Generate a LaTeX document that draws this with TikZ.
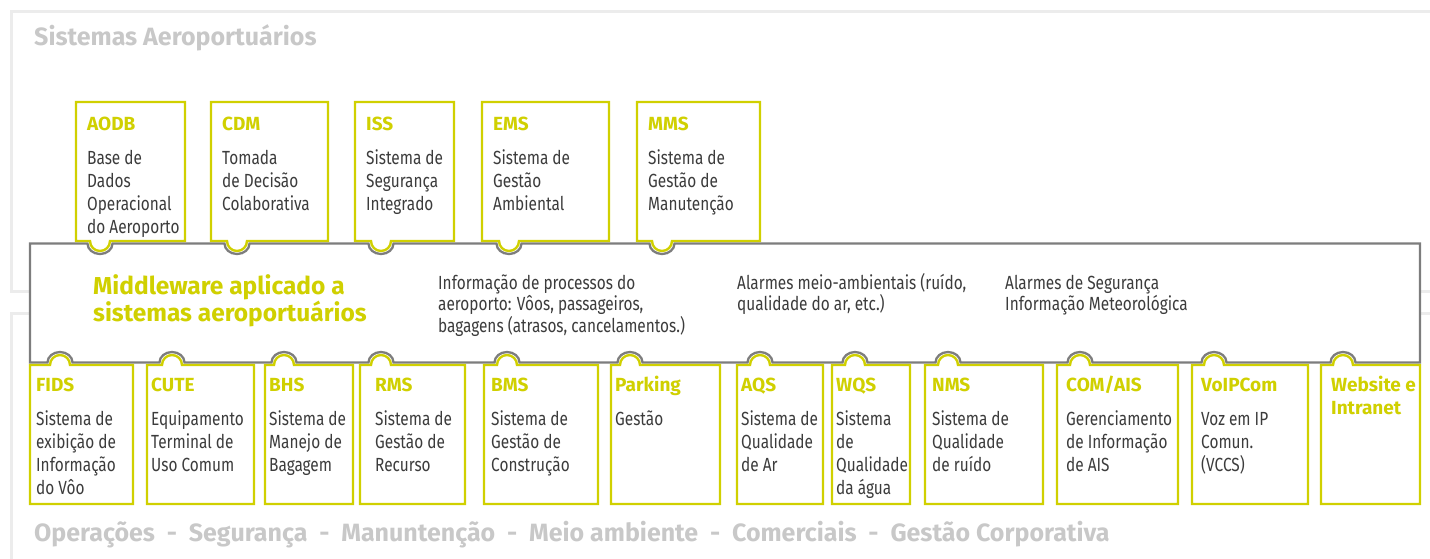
\documentclass[tikz,border=0pt]{standalone}
\usepackage{fontspec}
\setmainfont{Fira Sans}
\newfontfamily\bodyfont{Fira Sans}[FakeStretch=0.81]
\definecolor{accent}{RGB}{208,208,0}
\definecolor{framegray}{RGB}{236,236,236}
\definecolor{headgray}{RGB}{200,200,200}
\definecolor{midgray}{RGB}{125,125,125}
\definecolor{textdark}{RGB}{60,60,60}
\newcommand\lineup{\rule{0pt}{16pt}}
\newcommand\systitle[1]{\lineup{\color{accent}\rmfamily\bfseries #1}}

\tikzset{
  sysbox/.style={draw=accent, line width=2.4pt, fill=white},
  systext/.style={anchor=north west, inner sep=0pt, align=left, text=textdark,
    font=\bodyfont\fontsize{19}{23}\selectfont},
  heading/.style={anchor=base west, inner sep=0pt, text=headgray,
    font=\bfseries\fontsize{25}{30}\selectfont},
}

\begin{document}
\begin{tikzpicture}[x=1pt,y=-1pt]
\useasboundingbox (0,0) rectangle (1430,558);
% light frames behind everything
\draw[framegray, line width=3pt] (1440,11) -- (11,11) -- (11,291) -- (1440,291);
\draw[framegray, line width=3pt] (1440,313) -- (11,313) -- (11,570);
\node[heading] (sistemas) at (34,45.5) {Sistemas Aeroportuários};

% the middleware band, notched where the systems plug in
\draw[midgray, line width=2.3pt, fill=white] (30,243.5)
  \foreach \cx in {100,237,381,509,662} {
    -- (\cx-12.5,243.5) arc[start angle=180, end angle=0, x radius=12.5, y radius=10.5]
  }
  -- (1420,243.5) -- (1420,362.5)
  \foreach \cx in {1343,1214,1080,948,855,760,630,507,381,284,172,60} {
    -- (\cx+12.5,362.5) arc[start angle=0, end angle=-180, x radius=12.5, y radius=10.5]
  }
  -- (30,362.5) -- cycle;

\node[anchor=north west, inner sep=0pt, align=left, text=accent,
  font=\bfseries\fontsize{24.5}{27}\selectfont] (mwtitle) at (93,274.3)
  {\rule{0pt}{20pt}Middleware aplicado a\\sistemas aeroportuários};
\node[systext, font=\bodyfont\fontsize{19}{21.5}\selectfont] (procinfo) at (438,273)
  {\lineup Informação de processos do\\aeroporto: Vôos, passageiros,\\bagagens (atrasos, cancelamentos.)};
\node[systext, font=\bodyfont\fontsize{19}{21.5}\selectfont] (alarmamb) at (737,273)
  {\lineup Alarmes meio-ambientais (ruído,\\qualidade do ar, etc.)};
\node[systext, font=\bodyfont\fontsize{19}{21.5}\selectfont] (alarmseg) at (1005,273)
  {\lineup Alarmes de Segurança\\Informação Meteorológica};

% systems above the band
\foreach \nm/\xa/\xb/\cx/\ttl/\desc in {
  aodb/76/185/100/AODB/{Base de\\Dados\\Operacional\\do Aeroporto},
  cdm/211/328/237/CDM/{Tomada\\de Decisão\\Colaborativa},
  iss/355/454/381/ISS/{Sistema de\\Segurança\\Integrado},
  ems/482/609/509/EMS/{Sistema de\\Gestão\\Ambiental},
  mms/637/760/662/MMS/{Sistema de\\Gestão de\\Manutenção}} {
  \draw[sysbox] (\xa,241) -- (\xa,102) -- (\xb,102) -- (\xb,241)
    -- (\cx+10,241) arc[start angle=0, end angle=180, radius=10] -- cycle;
  \node[systext] (\nm) at (\xa+11,114.5) {\systitle{\ttl}\\[10.5pt]\desc};
}

% systems below the band
\foreach \nm/\xa/\xb/\cx/\tx/\ttl/\desc in {
  fids/30/133/60/36/FIDS/{Sistema de\\exibição de\\Informação\\do Vôo},
  cute/147/254/172/151/CUTE/{Equipamento\\Terminal de\\Uso Comum},
  bhs/265/353/284/269/BHS/{Sistema de\\Manejo de\\Bagagem},
  rms/360/465/381/375/RMS/{Sistema de\\Gestão de\\Recurso},
  bms/484/598/507/491/BMS/{Sistema de\\Gestão de\\Construção},
  parking/611/720/630/615/Parking/{Gestão},
  aqs/737/823/760/741/AQS/{Sistema de\\Qualidade\\de Ar},
  wqs/832/910/855/836/WQS/{Sistema\\de\\Qualidade\\da água},
  nms/925/1043/948/932/NMS/{Sistema de\\Qualidade\\de ruído},
  comais/1057/1178/1080/1066/{COM/AIS}/{Gerenciamento\\de Informação\\de AIS},
  voip/1192/1308/1214/1201/VoIPCom/{Voz em IP\\Comun.\\(VCCS)}} {
  \draw[sysbox] (\xa,365) -- (\xa,504) -- (\xb,504) -- (\xb,365)
    -- (\cx+10,365) arc[start angle=0, end angle=-180, radius=10] -- cycle;
  \node[systext] (\nm) at (\tx,375) {\systitle{\ttl}\\[11.5pt]\desc};
}
\draw[sysbox] (1321,365) -- (1321,504) -- (1420,504) -- (1420,365)
  -- (1353,365) arc[start angle=0, end angle=-180, radius=10] -- cycle;
\node[systext] (web) at (1331,375) {\systitle{Website e}\\\systitle{Intranet}};

\node[heading] (areas) at (34,541.7)
  {Operações\ \ -\ \ Segurança\ \ -\ \ Manuntenção\ \ -\ \ Meio ambiente\ \ -\ \ Comerciais\ \ -\ \ Gestão Corporativa};
\end{tikzpicture}
\end{document}
